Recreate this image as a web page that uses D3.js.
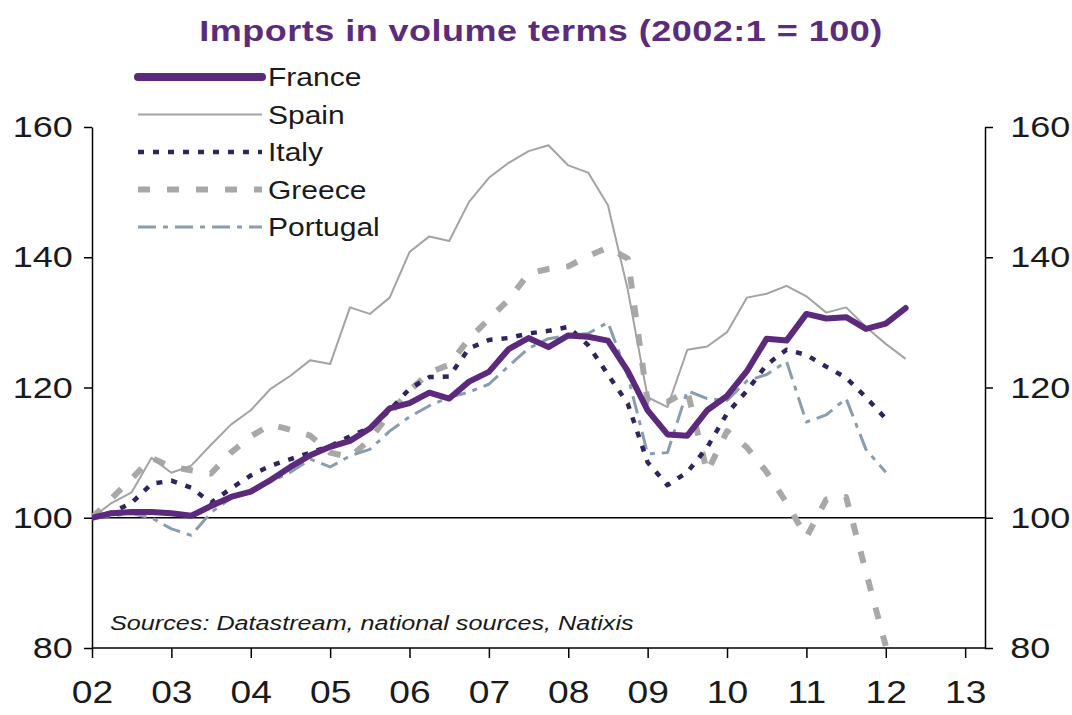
<!DOCTYPE html>
<html>
<head>
    <meta charset='utf-8'>
    <title>Imports in volume terms</title>
    <style type="text/css">
        body { margin: 0; background: #fff; }
        svg { display: block; font-family: "Liberation Sans", Arial, sans-serif; }
        .axis path, .axis line { stroke: #000; stroke-width: 1.5; }
        .axis text { fill: #1a1a1a; }
        .series { fill: none; }
    </style>
</head>
<body>
    <script src="https://cdn.jsdelivr.net/npm/d3@7"></script>

    <div id="svgContainer"></div>

    <script type="text/javascript">

        const width = 1072;
        const height = 715;

        // quarterly data, 2002:1 = 100
        const startYear = 2002;
        const yearTicks = [2002, 2003, 2004, 2005, 2006, 2007, 2008, 2009, 2010, 2011, 2012, 2013];
        const valueTicks = [80, 100, 120, 140, 160];

        const france = [100, 100.7, 100.9, 100.9, 100.7, 100.3, 101.8, 103.2, 104.0, 105.8,
            107.8, 109.6, 110.9, 111.8, 113.7, 116.8, 117.6, 119.2, 118.3, 120.9,
            122.4, 125.9, 127.6, 126.2, 128.0, 127.8, 127.2, 122.5, 116.5, 112.8,
            112.6, 116.5, 118.7, 122.5, 127.5, 127.2, 131.3, 130.6, 130.8, 129.0,
            129.8, 132.2];
        const spain = [100, 102.3, 103.9, 109.2, 106.9, 108.0, 111.2, 114.3, 116.5, 119.8,
            121.8, 124.2, 123.6, 132.3, 131.3, 133.8, 140.8, 143.2, 142.5, 148.5,
            152.2, 154.5, 156.3, 157.2, 154.1, 153.0, 148.0, 135.0, 118.5, 117.0,
            125.8, 126.3, 128.5, 133.8, 134.4, 135.6, 134.0, 131.5, 132.3, 129.3,
            126.7, 124.4];
        const italy = [100, 100.8, 102.3, 105.2, 105.7, 104.6, 102.3, 104.5, 106.5, 108.0,
            109.0, 110.0, 111.0, 112.5, 113.8, 116.5, 119.8, 121.6, 121.7, 126.0,
            127.3, 127.6, 128.3, 128.7, 129.3, 126.5, 122.0, 117.5, 108.5, 105.0,
            107.0, 110.8, 116.0, 119.5, 123.5, 125.8, 125.0, 123.2, 121.5, 118.5,
            115.2];
        const greece = [100, 103, 106, 109.2, 107.8, 107.3, 106.8, 110.0, 112.5, 114.3,
            113.5, 112.6, 110.0, 109.3, 112.0, 116.0, 119.5, 122.3, 123.5, 127.5,
            130.5, 133.5, 137.5, 138.2, 138.6, 140.2, 141.5, 139.8, 117.8, 117.8,
            119.5, 107.0, 113.3, 110.8, 107.0, 102.3, 97.0, 102.8, 103.2, 91.7,
            80.3];
        const portugal = [100, 100.3, 100.6, 100.0, 98.3, 97.3, 100.8, 103.0, 104.0, 105.5,
            107.0, 109.0, 107.8, 109.5, 110.5, 113.3, 115.5, 117.2, 118.5, 119.3,
            120.5, 123.3, 126.0, 127.5, 128.0, 128.3, 130.0, 121.8, 109.8, 110.0,
            119.5, 118.3, 118.0, 121.0, 122.0, 124.0, 114.7, 115.8, 118.3, 110.5,
            107.0];

        const series = [
            {name: "Greece", values: greece, color: "#a8a8a8", width: 6, dash: "12,17"},
            {name: "Portugal", values: portugal, color: "#8a9db0", width: 3, dash: "18,7,5,7"},
            {name: "Spain", values: spain, color: "#a3a3a3", width: 2, dash: null},
            {name: "Italy", values: italy, color: "#30245c", width: 4.5, dash: "6,9"},
            {name: "France", values: france, color: "#5b2a7d", width: 6, dash: null}
        ];
        const legendOrder = ["France", "Spain", "Italy", "Greece", "Portugal"];

        const margin = {left: 92, right: 985, top: 127, bottom: 648};
        const stretch = 1.2;

        const x = d3.scaleLinear().domain([2002, 2013.25]).range([margin.left, margin.right]);
        const y = d3.scaleLinear().domain([80, 160]).range([margin.bottom, margin.top]);

        const svg = d3.select("#svgContainer").append("svg")
            .attr("width", width)
            .attr("height", height);

        svg.append("rect").attr("width", width).attr("height", height).attr("fill", "#fff");

        // title
        svg.append("g")
            .attr("transform", `translate(541,41) scale(${stretch},1)`)
            .append("text")
            .attr("text-anchor", "middle")
            .attr("font-size", 30)
            .attr("font-weight", "bold")
            .attr("letter-spacing", 0.4)
            .attr("fill", "#5b2c7c")
            .text("Imports in volume terms (2002:1 = 100)");

        // axes
        const xAxis = svg.append("g")
            .attr("class", "axis")
            .attr("transform", `translate(0,${margin.bottom})`)
            .call(d3.axisBottom(x).tickValues(yearTicks).tickSize(10).tickPadding(23)
                .tickFormat(d => String(d).slice(2)));
        xAxis.select(".domain").attr("d", `M${margin.left},0H${margin.right}`);
        xAxis.selectAll("text").attr("font-size", 31)
            .attr("transform", `scale(${stretch},1)`);

        const yLeft = svg.append("g")
            .attr("class", "axis")
            .attr("transform", `translate(${margin.left},0)`)
            .call(d3.axisLeft(y).tickValues(valueTicks).tickSizeInner(8).tickSizeOuter(0).tickPadding(8));
        yLeft.selectAll("text").attr("font-size", 30)
            .attr("transform", `scale(${stretch},1)`);

        const yRight = svg.append("g")
            .attr("class", "axis")
            .attr("transform", `translate(${margin.right},0)`)
            .call(d3.axisRight(y).tickValues(valueTicks).tickSizeInner(8).tickSizeOuter(0).tickPadding(13));
        yRight.selectAll("text").attr("font-size", 30)
            .attr("transform", `scale(${stretch},1)`);

        // 100 reference line
        svg.append("line")
            .attr("x1", margin.left).attr("x2", margin.right)
            .attr("y1", y(100)).attr("y2", y(100))
            .attr("stroke", "#000").attr("stroke-width", 1.5);

        svg.append("clipPath").attr("id", "plot")
            .append("rect")
            .attr("x", margin.left).attr("y", margin.top - 10)
            .attr("width", margin.right - margin.left)
            .attr("height", margin.bottom - margin.top + 10);

        const line = d3.line()
            .x((d, i) => x(startYear + i / 4))
            .y(d => y(d));

        svg.append("g")
            .attr("clip-path", "url(#plot)")
            .selectAll("path")
            .data(series)
            .join("path")
            .attr("class", "series")
            .attr("d", d => line(d.values))
            .attr("stroke", d => d.color)
            .attr("stroke-width", d => d.width)
            .attr("stroke-dasharray", d => d.dash)
            .attr("stroke-linejoin", "round")
            .attr("stroke-linecap", d => d.name === "France" ? "round" : "butt");

        // legend
        const legendY = d3.scalePoint().domain(legendOrder).range([77, 227]);
        const legend = svg.append("g")
            .selectAll("g")
            .data(legendOrder.map(n => series.find(s => s.name === n)))
            .join("g")
            .attr("transform", d => `translate(0,${legendY(d.name)})`);

        legend.append("line")
            .attr("x1", 138).attr("x2", 262)
            .attr("stroke", d => d.color)
            .attr("stroke-width", d => d.name === "France" ? 8 : d.width)
            .attr("stroke-dasharray", d => d.dash)
            .attr("stroke-linecap", d => d.name === "France" ? "round" : "butt");

        legend.append("g")
            .attr("transform", `translate(268,9) scale(${stretch},1)`)
            .append("text")
            .attr("font-size", 25)
            .attr("fill", "#1a1a1a")
            .text(d => d.name);

        // source note
        svg.append("g")
            .attr("transform", `translate(110,630) scale(${stretch},1)`)
            .append("text")
            .attr("font-size", 21)
            .attr("font-style", "italic")
            .attr("fill", "#1a1a1a")
            .text("Sources: Datastream, national sources, Natixis");

    </script>
</body>
</html>
